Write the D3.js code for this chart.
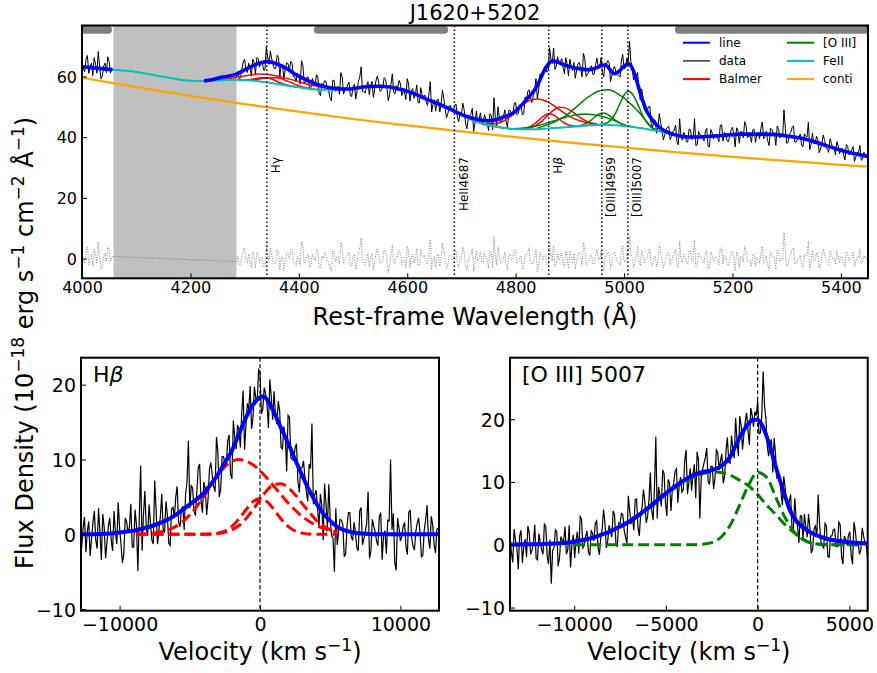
<!DOCTYPE html>
<html><head><meta charset="utf-8">
<script src="https://cdn.jsdelivr.net/npm/d3@7"></script>
<style>body{margin:0;background:#fff;} svg{font-family:"DejaVu Sans",sans-serif;}</style>
</head><body><svg id="c" width="877" height="673"></svg>
<script>
// ---------------- DATA ----------------
const title = "J1620+5202";
// top panel: observed spectrum (two segments, 2.5 Å sampling: grid + half-step points)
const wave1 = d3.range(4000, 4056, 5);
const wave1Mid = d3.range(4002.5, 4053, 5);
const wave2 = d3.range(4285, 5451, 5);
const wave2Mid = d3.range(4287.5, 5448, 5);
const flux1 = [65.3,61.6,66.9,63.4,60.3,64.0,68.2,59.2,63.4,61.3,65.0,62.9];
const flux1Mid = [62.4,65.7,61.0,64.4,66.2,61.1,63.2,60.0,64.4,66.5,61.1];
const flux2 = [59.8,59.1,62.5,65.7,61.3,62.8,65.7,60.8,65.9,64.9,
62.1,69.7,64.0,65.8,62.6,67.0,60.0,63.9,62.4,64.3,
65.0,59.9,58.2,60.4,65.2,57.6,59.7,55.5,59.4,56.9,
59.8,53.7,56.9,58.4,55.3,52.0,58.8,56.5,54.1,59.8,
55.5,57.2,53.7,56.7,52.6,58.4,63.2,55.2,56.8,54.0,
58.4,56.0,60.2,55.1,56.6,59.0,52.0,57.4,54.7,56.9,
58.7,53.7,54.9,59.3,51.9,56.0,54.0,51.4,56.3,53.4,
51.6,54.2,48.3,52.3,52.4,48.3,55.5,49.3,47.8,50.3,
48.4,50.9,45.1,47.5,49.1,42.8,47.1,49.5,44.6,44.9,
48.0,43.9,46.0,42.2,47.2,53.0,43.7,46.4,45.6,49.0,
43.2,48.8,47.7,51.4,47.9,50.4,47.8,52.1,55.6,51.4,
55.2,52.6,60.9,59.9,63.6,62.0,65.9,69.4,63.4,64.1,
65.9,60.9,64.1,65.7,61.9,59.4,64.2,62.6,67.6,60.0,
61.5,63.5,60.8,66.0,62.9,61.4,64.5,65.2,58.3,62.5,
61.3,60.3,65.1,62.5,66.0,71.6,63.1,59.5,61.3,52.2,
52.8,48.7,50.0,44.4,45.5,41.3,47.8,42.4,40.7,43.3,
39.2,41.9,44.0,37.5,40.3,41.6,38.5,42.7,39.2,46.1,
37.5,40.8,39.7,42.0,37.0,42.5,39.4,41.0,38.5,44.1,
41.6,38.8,40.5,43.3,36.8,42.3,41.8,39.8,43.9,40.3,
38.3,42.6,41.2,39.5,45.0,40.1,38.8,42.9,41.4,37.3,
42.9,40.6,49.0,38.0,41.0,43.2,38.4,39.4,41.0,36.8,
40.3,44.9,37.6,38.0,40.3,34.9,38.1,38.9,36.0,39.5,
36.3,34.2,37.1,36.3,34.1,37.6,34.2,35.8,32.0,34.9,
37.3,32.8,34.1,32.0];
const flux2Mid = [61.7,59.6,64.8,62.1,64.4,60.1,64.6,66.2,63.1,64.8,
62.1,66.3,68.4,63.8,62.7,66.3,64.0,59.1,64.5,61.9,
64.4,59.8,61.0,57.5,63.6,58.4,59.8,56.4,58.1,60.6,
54.3,57.7,58.6,56.0,53.0,58.7,55.1,56.7,61.3,54.2,
56.0,58.1,53.4,57.4,55.3,59.9,55.1,54.5,58.3,57.2,
53.1,58.8,57.7,55.6,59.6,56.4,54.0,60.9,54.3,56.6,
57.5,54.9,52.4,57.5,54.9,52.8,57.2,51.3,54.0,53.9,
50.5,58.3,50.8,48.6,52.4,50.9,52.8,46.4,50.4,48.6,
50.6,46.5,48.2,51.2,44.7,45.9,47.7,41.8,48.6,45.7,
44.4,47.4,44.8,47.8,42.4,46.6,50.0,44.8,46.8,45.0,
48.9,47.2,51.2,47.4,50.7,47.3,53.3,55.1,53.0,53.7,
59.3,55.6,60.4,62.9,61.4,69.5,64.3,62.3,66.5,64.9,
63.0,66.2,60.2,63.4,64.6,62.1,64.6,59.9,66.0,60.8,
63.1,60.6,63.9,63.0,66.2,59.9,64.0,64.5,60.4,63.3,
60.6,59.8,67.3,62.8,64.7,65.0,58.8,59.9,55.6,55.9,
48.9,48.7,50.2,43.0,45.6,43.2,44.8,39.1,42.6,43.6,
40.3,42.2,38.7,46.1,39.0,40.6,38.4,42.5,39.7,37.2,
41.9,40.7,38.8,42.9,36.8,41.4,40.6,39.7,43.9,38.7,
41.2,38.5,42.4,40.8,43.1,38.0,41.8,45.1,39.8,40.4,
42.4,38.3,41.3,43.0,39.5,41.9,37.2,42.6,41.3,43.7,
39.7,40.2,42.8,38.3,41.5,43.7,38.4,40.0,37.4,41.1,
40.1,35.9,41.4,37.8,39.2,36.1,40.7,36.8,35.0,38.0,
36.4,38.5,34.5,36.3,32.5,37.0,34.6,36.9,33.5,34.9,
32.4,35.0,34.2];
// residuals (data - model)
const resid1 = [2.1,-1.5,3.8,0.4,-2.6,1.2,5.5,-3.4,0.9,-1.1,2.7,0.7];
const resid1Mid = [-0.8,2.6,-2.0,1.4,3.3,-1.7,0.5,-2.6,1.9,4.1,-1.2];
const resid2 = [-1.0,-2.1,0.8,3.5,-1.4,-0.3,2.2,-3.1,1.7,0.4,
-2.6,4.8,-0.9,1.1,-1.8,2.9,-3.8,0.6,-0.5,1.9,
3.2,-1.2,-2.4,0.3,5.6,-1.6,0.9,-2.9,1.4,-0.7,
2.5,-3.3,0.1,1.8,-1.1,-4.2,2.7,0.5,-1.9,3.9,
-0.4,1.3,-2.2,0.7,-3.5,2.1,6.8,-1.3,0.2,-2.7,
1.6,-0.8,3.4,-1.7,-0.2,2.3,-4.6,1.0,-1.5,0.9,
2.8,-2.0,-0.6,4.1,-3.0,1.5,-0.1,-2.3,3.0,0.4,
-1.0,2.0,-3.6,0.8,1.2,-2.5,5.1,-0.7,-1.8,1.1,
-0.3,2.6,-2.8,0.0,1.9,-4.0,0.6,3.3,-1.4,-0.9,
2.4,-1.6,0.5,-3.2,1.7,7.4,-2.1,0.3,-0.8,2.2,
-3.9,1.4,-0.2,2.9,-1.2,0.7,-2.6,1.0,3.6,-1.9,
0.2,-4.4,2.1,-0.6,1.3,-2.0,0.9,4.3,-1.5,-0.4,
1.8,-2.9,0.6,2.5,-1.1,-3.4,1.6,0.1,5.3,-2.2,
-0.7,1.2,-1.7,3.1,-0.5,-2.4,0.8,2.0,-3.7,1.5,
0.4,-1.3,2.7,-0.9,1.9,7.5,0.3,-1.0,3.8,-2.3,
1.1,-0.6,2.3,-1.8,0.5,-2.8,4.5,-0.2,-1.4,1.7,
-2.1,0.9,3.2,-3.0,0.0,1.4,-1.6,2.6,-0.8,6.1,
-2.5,0.7,-0.4,1.8,-3.3,2.2,-1.0,0.6,-2.0,3.5,
1.0,-1.9,-0.3,2.4,-4.1,1.3,0.8,-1.2,2.9,-0.7,
-2.7,1.6,0.2,-1.5,4.0,-0.9,-2.2,1.9,0.5,-3.6,
2.1,-0.1,8.5,-2.4,0.7,3.0,-1.7,-0.5,1.2,-2.9,
0.9,5.8,-1.3,-0.6,2.0,-3.1,0.4,1.5,-1.1,2.7,
-0.2,-2.0,1.1,0.6,-1.4,2.3,-0.8,1.0,-2.6,0.5,
3.1,-1.2,0.2,-1.7];
const resid2Mid = [0.7,-1.9,2.8,-0.4,1.5,-3.2,0.9,2.1,-1.3,0.2,
-2.7,1.4,3.6,-0.8,-1.6,2.3,0.4,-4.0,1.8,-0.2,
2.9,-1.1,0.6,-2.4,4.2,-0.6,1.2,-1.8,0.3,3.1,
-2.9,0.8,1.9,-0.5,-3.3,2.5,-1.0,0.7,5.4,-1.7,
0.1,2.2,-2.6,1.3,-0.9,3.5,-1.4,-2.1,1.6,0.5,
-3.7,2.0,0.9,-1.2,2.8,-0.3,-2.5,4.6,-1.8,0.6,
1.7,-0.7,-3.0,2.4,0.2,-1.5,3.3,-2.2,0.8,1.1,
-1.9,6.2,-0.9,-2.8,1.4,0.3,2.6,-3.4,1.0,-0.4,
2.1,-1.6,0.5,3.8,-2.3,-0.8,1.3,-4.3,2.7,0.0,
-1.2,1.9,-0.6,2.4,-3.1,0.9,4.0,-1.5,0.2,-2.0,
1.6,-0.5,2.9,-1.7,0.7,-3.6,1.4,2.2,-0.9,-1.3,
3.0,-2.4,0.4,1.1,-1.9,5.0,-0.8,-2.7,1.8,0.6,
-1.0,2.5,-3.2,0.3,1.7,-0.6,2.0,-2.5,3.7,-1.4,
0.8,-1.8,1.2,-0.2,2.6,-3.9,0.5,1.9,-1.1,2.3,
-0.7,-2.2,4.4,-1.0,0.6,1.5,-2.9,0.9,-0.4,2.8,
-1.6,0.2,3.2,-2.6,1.0,-0.5,1.8,-3.3,0.7,2.1,
-0.9,1.3,-2.0,5.7,-1.3,0.4,-1.7,2.5,-0.3,-2.8,
1.9,0.6,-1.4,2.7,-3.5,1.1,0.2,-0.8,3.4,-1.9,
0.5,-2.3,1.6,-0.1,2.2,-3.0,0.8,4.1,-1.2,-0.6,
1.4,-2.7,0.3,2.0,-1.5,0.9,-3.8,1.7,0.4,2.9,
-1.1,-0.4,2.3,-2.1,1.2,3.6,-1.6,0.1,-2.4,1.5,
0.8,-3.1,2.6,-0.7,1.0,-1.8,3.1,-0.5,-2.0,1.3,
0.0,2.4,-1.4,0.7,-2.9,1.8,-0.3,2.2,-1.0,0.6,
-1.7,1.1,0.4];
// total model ("line")
const lineModel1 = [[4000,63.2],[4020,62.9],[4040,62.5],[4056,62.2]];
const lineModel2 = [[4225,58.55],[4240,58.9],[4250,59.4],[4260,59.8],[4270,60.1],[4285,60.8],[4300,62.2],[4310,63.1],[4320,63.9],[4330,64.5],[4340,64.9],[4350,64.7],[4360,64.1],[4370,63.3],[4380,62.4],[4390,61.1],[4400,60.1],[4410,59.2],[4420,58.4],[4430,57.6],[4440,57.0],[4450,56.6],[4460,56.2],[4470,56.0],[4480,55.9],[4495,55.9],[4510,56.3],[4530,56.7],[4550,56.8],[4565,56.6],[4580,56.0],[4595,55.5],[4610,54.5],[4630,53.0],[4650,51.5],[4670,50.0],[4690,48.3],[4710,46.8],[4730,45.8],[4750,45.4],[4765,45.8],[4780,46.8],[4790,47.4],[4800,48.6],[4810,50.4],[4820,52.4],[4830,54.4],[4840,57.0],[4850,61.0],[4860,64.0],[4866,65.05],[4875,64.9],[4890,63.8],[4905,63.0],[4920,62.5],[4935,62.2],[4950,62.9],[4960,63.8],[4968,63.5],[4975,62.0],[4982,60.9],[4990,61.6],[5000,63.4],[5008,64.2],[5015,62.8],[5020,60.5],[5025,57.5],[5030,54.5],[5035,51.7],[5040,49.3],[5050,46.2],[5060,44.1],[5070,42.6],[5085,41.3],[5100,40.5],[5120,40.05],[5140,40.05],[5160,40.3],[5180,40.55],[5200,40.85],[5220,41.0],[5260,41.0],[5280,40.85],[5300,40.4],[5320,39.9],[5340,39.1],[5360,38.0],[5380,36.8],[5400,35.7],[5420,34.8],[5440,34.0],[5450,33.7]];
// FeII + continuum
const feModel = [[4000,63.1],[4030,62.7],[4058,62.25],[4080,61.9],[4100,61.5],[4120,60.9],[4140,60.2],[4160,59.6],[4180,59.0],[4200,58.6],[4230,58.5],[4260,58.75],[4285,58.9],[4310,58.7],[4325,58.45],[4340,58.1],[4355,57.7],[4370,57.3],[4390,56.7],[4410,56.15],[4430,55.75],[4450,55.6],[4470,55.7],[4480,55.85],[4495,55.9],[4510,56.3],[4530,56.7],[4550,56.8],[4565,56.6],[4580,56.0],[4595,55.5],[4610,54.5],[4630,53.0],[4650,51.5],[4670,50.0],[4690,48.3],[4705,47.1],[4720,45.6],[4730,45.0],[4740,44.4],[4750,44.0],[4760,43.6],[4770,43.3],[4780,43.0],[4790,42.8],[4800,42.65],[4820,42.6],[4840,42.65],[4860,42.9],[4880,43.1],[4900,43.35],[4920,43.7],[4940,43.95],[4960,44.1],[4980,43.95],[5000,43.7],[5020,43.3],[5040,42.7],[5060,42.1],[5080,41.4],[5100,40.6],[5110,40.2],[5120,40.05],[5140,40.05],[5160,40.3],[5180,40.55],[5200,40.85],[5220,41.0],[5260,41.0],[5280,40.85],[5300,40.4],[5320,39.9],[5340,39.1],[5360,38.0],[5380,36.8],[5400,35.7],[5420,34.8],[5440,34.0],[5450,33.7]];
// power-law continuum
const contiWave = [4000,4100,4200,4300,4400,4500,4600,4700,4800,4900,5000,5100,5200,5300,5400,5450];
const contiFlux = [59.6,56.5,53.6,50.9,48.4,46.0,43.9,41.9,40.0,38.2,36.6,35.0,33.5,32.2,30.9,30.3];
// Balmer components (top)
const hgA = [[4250,58.75],[4270,59.2],[4290,59.9],[4310,60.5],[4325,60.8],[4340,60.7],[4355,60.3],[4370,59.7],[4390,58.8],[4410,57.8],[4430,56.9],[4450,56.2],[4470,55.75],[4490,55.85]];
const hgB = [[4290,58.92],[4300,58.88],[4310,59.0],[4320,59.28],[4330,59.59],[4340,59.6],[4350,59.15],[4360,58.35],[4370,57.63],[4380,57.1],[4390,56.72],[4400,56.4]];
const hgC = [[4290,58.9],[4300,58.85],[4320,58.97],[4340,59.48],[4359,59.58],[4380,58.4],[4400,56.92],[4420,56.05],[4440,55.6]];
const hbWave = d3.range(4720, 4951, 10);
const hbA = [45.63,45.08,44.59,44.41,44.41,44.74,45.56,46.77,48.35,50.04,51.55,52.44,52.61,52.26,51.54,50.44,49.17,47.9,46.8,45.95,45.31,44.86,44.55,44.39];
const hbB = [45.6,45.0,44.4,44.0,43.6,43.3,43.0,42.8,42.67,42.71,43.02,43.77,45.15,46.73,47.69,47.3,46.01,44.67,43.9,43.71,43.73,43.85,43.95,44.05];
const hbC = [45.6,45.0,44.4,44.0,43.6,43.3,43.0,42.8,42.67,42.68,42.85,43.27,44.15,45.55,47.35,48.97,49.87,49.74,48.89,47.67,46.37,45.37,44.71,44.39];
// [O III] components (top)
const o3b5007Wave = d3.range(4840, 5101, 10);
const o3b5007 = [43.05,43.55,44.2,44.9,45.8,46.8,48.15,49.65,51.2,52.75,53.95,54.95,55.5,55.6,55.15,54.1,52.9,51.3,49.6,47.7,45.5,43.4,42.3,41.8,41.4,41.0,40.6];
const o3b4959Wave = d3.range(4800, 5021, 10);
const o3b4959 = [42.85,42.97,43.17,43.4,43.75,44.22,44.8,45.33,45.93,46.43,46.88,47.32,47.57,47.6,47.45,47.22,46.83,46.28,45.62,44.87,44.13,43.58,43.3];
const o3c5007 = [[4940,43.95],[4950,44.05],[4960,44.27],[4970,44.85],[4980,46.65],[4985,48.18],[4990,50.1],[4995,52.1],[5000,53.9],[5005,54.95],[5008.5,55.12],[5012,54.85],[5017,53.8],[5022,52.15],[5027,50.15],[5032,48.05],[5037,46.3],[5042,44.85],[5050,43.3],[5060,42.33],[5070,41.8]];
const o3c4959 = [[4910,43.55],[4920,43.89],[4930,44.55],[4940,45.73],[4945,46.48],[4950,47.2],[4955,47.74],[4960.5,47.97],[4966,47.78],[4972,47.2],[4978,46.41],[4985,45.43],[4995,44.38],[5005,43.79],[5015,43.4]];
// line markers
const lineMarks = [4341, 4687, 4861, 4959, 5007];
const lineNames = ["H\u03b3", "HeII4687", "H\u03b2", "[OIII]4959", "[OIII]5007"];
// continuum windows & masked region
const windows = [[3990,4048],[4435,4668],[5101,5470]];
const maskRange = [4058, 4285];
const topXTicks = [4000,4200,4400,4600,4800,5000,5200,5400];
const topYTicks = [0,20,40,60];

// bottom-left: H beta (100 km/s sampling: grid + half-step points)
const hbVel = d3.range(-12700, 12701, 200);
const hbVelMid = d3.range(-12600, 12601, 200);
const hbFlux = [-1.8,2.3,0.4,-2.9,1.6,-0.7,3.5,-3.4,1.0,-1.1,
2.2,-2.2,0.4,4.3,-1.3,-2.7,1.7,1.0,-1.7,3.3,
-4.9,9.2,2.7,0.9,4.0,-0.8,7.2,-1.3,2.3,0.7,
4.4,-1.2,3.4,2.2,6.4,1.0,3.8,5.4,12.5,6.5,
3.1,5.6,9.4,2.9,6.1,4.7,9.6,6.4,13.0,5.0,
10.4,9.4,12.5,8.1,15.2,11.4,14.1,16.3,11.3,17.5,
19.8,15.6,18.2,22.0,16.1,19.6,17.4,20.7,15.3,16.0,
17.8,11.6,14.4,8.4,15.6,10.0,11.6,7.1,8.9,9.8,
5.7,9.4,14.8,5.3,3.5,5.4,-0.8,4.1,6.7,-0.2,
-5.0,-1.4,2.0,1.3,-2.6,2.9,-0.3,1.6,-1.8,3.1,
-1.4,0.3,5.7,-2.2,1.1,-0.9,2.4,-3.4,0.5,1.9,
10.0,2.8,-4.8,0.9,-0.3,1.6,-2.7,3.2,-1.6,0.4,
2.2,-3.0,0.6,3.9,-1.9,1.3,-2.5,0.8];
const hbFluxMid = [0.9,-2.4,1.7,-0.6,3.1,-1.9,0.3,2.7,-3.2,1.1,
-0.7,3.1,-1.3,0.8,-3.8,2.2,0.2,4.1,-1.7,1.3,
2.2,-2.2,5.8,-0.2,1.4,-1.3,3.3,0.6,5.4,0.2,
2.6,-1.5,3.6,5.0,1.6,3.3,0.6,7.0,3.5,6.2,
2.5,8.9,4.5,7.0,2.6,8.7,7.8,5.7,11.0,6.0,
10.4,9.5,13.3,7.4,13.0,14.6,11.6,19.2,14.6,16.7,
14.1,19.7,17.7,21.7,16.7,18.8,14.2,18.4,19.1,14.7,
16.5,11.4,13.2,15.9,10.2,9.9,12.1,5.6,8.9,7.6,
4.4,8.8,4.0,5.9,0.9,3.9,6.8,0.8,2.1,-0.5,
3.5,0.4,1.9,-3.0,1.1,2.9,-0.8,0.2,-2.2,3.6,
-0.6,1.5,-3.2,2.0,0.4,-1.5,2.9,-0.2,-2.6,1.8,
0.6,-3.8,2.2,-0.9,1.1,-1.7,3.0,-0.4,-2.1,1.5,
0.2,-2.8,1.9,-0.6,2.4,-1.3,0.7];
const hbLineV = [-12750,-12000,-11000,-10000,-9500,-9000,-8500,-8000,-7500,-7000,-6500,-6000,-5500,-5000,-4500,-4000,-3500,-3000,-2500,-2000,-1500,-1000,-500,0,250,500,1000,1500,2000,2500,3000,3500,4000,4500,5000,5500,6000,6500,7000,7500,8000,9000,10000,12750];
const hbLineF = [0,0.02,0.08,0.25,0.38,0.5,0.72,0.95,1.25,1.6,2.05,2.6,3.3,4.0,4.7,5.5,6.7,8.0,9.6,11.2,13.4,15.6,17.3,18.3,18.4,18.0,16.3,14.2,12.2,10.0,7.9,5.9,4.2,2.8,1.8,1.0,0.55,0.3,0.15,0.07,0.03,0.01,0,0];
const hbCompV = [-8800].concat(d3.range(-8000, 5501, 500));
const hbCompA = [0.03,0.09,0.18,0.34,0.62,1.06,1.71,2.6,3.75,5.05,6.5,7.88,9.04,9.78,10.0,9.8,9.3,8.5,7.5,6.4,5.3,4.2,3.25,2.4,1.74,1.2,0.8,0.52,0.33];
const hbCompB = [0,0,0,0,0,0,0,0,0,0,0.05,0.16,0.45,1.06,2.06,3.29,4.37,4.8,4.37,3.29,2.06,1.06,0.45,0.16,0.05,0.01,0,0,0];
const hbCompC = [0,0,0,0,0,0,0,0,0,0.01,0.04,0.11,0.28,0.6,1.18,2.1,3.3,4.67,5.9,6.66,6.76,6.25,5.3,4.1,3.0,1.9,1.16,0.63,0.32];

// bottom-right: [O III] 5007 (75 km/s sampling: grid + half-step points)
const o3Vel = d3.range(-13500, 6001, 150);
const o3VelMid = d3.range(-13425, 5926, 150);
const o3Flux = [1.6,-2.8,0.7,-3.9,2.3,-0.3,-2.0,1.9,-0.9,3.2,
-2.4,0.4,-1.5,2.9,-3.1,-6.2,-0.5,2.1,-2.1,0.7,
2.9,-0.8,-3.6,1.6,0.8,-1.4,4.1,-0.1,2.2,-1.7,
1.8,3.4,-0.4,1.3,5.6,-0.5,3.1,1.2,4.8,-0.3,
3.4,4.8,1.2,7.8,3.3,2.3,7.3,1.4,5.9,6.9,
4.5,11.5,3.9,17.2,9.2,6.1,11.3,4.6,9.8,8.8,
11.7,6.7,10.8,8.8,15.1,9.9,8.6,12.8,14.8,4.2,
12.0,13.9,10.1,12.5,8.9,15.1,11.9,14.5,10.9,17.1,
13.0,15.2,20.2,14.1,19.0,17.5,21.0,15.9,20.6,21.2,
22.9,17.8,27.6,20.1,14.1,16.8,17.0,10.7,10.9,6.3,
9.0,5.8,8.0,2.6,4.1,0.3,4.6,4.9,1.2,2.8,
-0.7,3.0,8.0,0.5,-0.5,3.0,-2.0,1.4,2.5,-0.3,
3.2,-3.1,0.8,1.5,-1.7,3.6,-0.2,-1.5,2.7,0.3,
-2.5];
const o3FluxMid = [-1.2,2.5,-0.5,1.4,-2.9,0.9,3.0,-1.5,0.3,-2.2,
1.8,-0.8,3.4,-1.8,0.8,-0.9,2.4,-3.4,1.3,0.6,
-1.5,3.1,0.1,-2.1,2.1,4.5,-0.5,1.4,-1.2,2.3,
0.6,3.8,-1.6,2.5,3.6,0.5,2.3,5.4,0.2,3.5,
5.0,2.3,0.2,5.4,4.5,7.2,2.8,5.0,8.8,3.5,
7.1,5.6,9.0,4.2,7.9,11.9,6.9,10.4,5.4,9.9,
12.1,9.5,8.4,13.4,8.1,12.2,11.3,7.4,13.5,10.7,
13.0,15.4,9.6,12.5,10.7,14.7,13.4,9.8,14.9,13.2,
17.4,13.8,16.6,20.5,15.2,19.7,18.2,21.8,18.8,20.6,
17.7,20.6,22.1,15.7,16.0,11.5,14.4,11.1,8.3,10.9,
6.3,6.9,2.6,7.4,3.1,4.6,0.9,3.0,4.9,-1.3,
2.5,1.3,3.3,-0.2,3.4,-1.9,1.4,2.4,-0.3,3.6,
-1.8,1.4,-0.1,2.1,-3.1,2.3,0.6,-0.9,1.4,-0.1];
const o3LineV = [-13500,-13000,-12500,-12000,-11500,-11000,-10500,-10000,-9500,-9000,-8500,-8000,-7500,-7000,-6500,-6000,-5500,-5000,-4500,-4000,-3500,-3000,-2500,-2000,-1500,-1000,-500,-250,0,250,500,750,1000,1250,1500,1750,2000,2500,3000,3500,4000,4500,5000,5500,6000];
const o3LineF = [0.05,0.05,0.1,0.1,0.15,0.2,0.3,0.5,0.8,1.1,1.6,2.2,2.9,3.7,4.7,5.8,7.0,8.2,9.3,10.3,11.1,11.6,11.9,12.5,14.0,17.0,19.3,19.9,19.9,19.0,17.2,14.9,12.3,10.0,7.7,5.6,4.2,2.7,1.8,1.2,0.8,0.6,0.4,0.3,0.2];
const o3CompV = d3.range(-10000, 5501, 500);
const o3CompBroad = [0.4,0.7,1.1,1.6,2.1,2.8,3.6,4.6,5.7,6.8,8.0,9.1,10.0,10.8,11.3,11.6,11.5,11.1,10.3,9.4,8.0,6.3,4.8,3.2,1.9,0.8,0.2,0.05,0,0,0,0];
const o3CompCore = [0,0,0,0,0,0,0,0,0,0,0,0,0,0.02,0.1,0.35,1.2,3.1,6.2,9.5,11.5,10.7,7.5,4.3,2.0,0.8,0.25,0.06,0.01,0,0,0];

const legendNames = ["line","data","Balmer","[O III]","FeII","conti"];
const legendColors = ["#0000ff","#000000","#ff0000","#008000","#00bfbf","#ffa500"];

// ---------------- DRAWING ----------------
const svg = d3.select("#c");
const fmt = d3.format("d");
const merge = (xa, ya, xb, yb) => xa.map((w, i) => [w, ya[i]]).concat(xb.map((w, i) => [w, yb[i]])).sort((a, b) => a[0] - b[0]);

function panelAxes(g, x, y, xt, yt, fs, xLabY) {
  const bottom = y.range()[0];
  const left = x.range()[0];
  const ax = g.append("g").attr("transform", `translate(0,${bottom})`)
    .call(d3.axisBottom(x).tickValues(xt).tickFormat(fmt).tickSizeInner(-5).tickSizeOuter(0));
  ax.select(".domain").remove();
  ax.selectAll("text").attr("y", xLabY).attr("dy", null).style("font-size", fs + "px").attr("fill", "#000");
  ax.selectAll("line").attr("stroke", "#000");
  const ay = g.append("g").attr("transform", `translate(${left},0)`)
    .call(d3.axisLeft(y).tickValues(yt).tickFormat(fmt).tickSizeInner(-5).tickSizeOuter(0).tickPadding(5));
  ay.select(".domain").remove();
  ay.selectAll("text").attr("dy", "0.36em").style("font-size", fs + "px").attr("fill", "#000");
  ay.selectAll("line").attr("stroke", "#000");
  ax.attr("font-family", null); ay.attr("font-family", null);
}
function frame(g, x, y) {
  g.append("rect").attr("x", x.range()[0]).attr("y", y.range()[1])
   .attr("width", x.range()[1] - x.range()[0]).attr("height", y.range()[0] - y.range()[1])
   .attr("fill", "none").attr("stroke", "#000").attr("stroke-width", 2);
}
function clip(id, x, y) {
  svg.append("clipPath").attr("id", id).append("rect")
    .attr("x", x.range()[0]).attr("y", y.range()[1])
    .attr("width", x.range()[1] - x.range()[0]).attr("height", y.range()[0] - y.range()[1]);
}

// ===== TOP PANEL =====
const xT = d3.scaleLinear().domain([4000, 5450]).range([82, 868]);
const yT = d3.scaleLinear().domain([-6.5, 76.8]).range([278.3, 25.5]);
clip("clipT", xT, yT);
const gT = svg.append("g");
const pT = gT.append("g").attr("clip-path", "url(#clipT)");

pT.append("rect").attr("x", xT(maskRange[0])).attr("y", yT.range()[1])
  .attr("width", xT(maskRange[1]) - xT(maskRange[0])).attr("height", yT.range()[0] - yT.range()[1])
  .attr("fill", "#c0c0c0");
windows.forEach(w => {
  pT.append("line").attr("x1", xT(w[0])).attr("x2", xT(w[1])).attr("y1", yT(75.4)).attr("y2", yT(75.4))
    .attr("stroke", "#808080").attr("stroke-width", 8).attr("stroke-linecap", "round");
});

const lineXY = (x, y, curve) => d3.line().x(d => x(d[0])).y(d => y(d[1])).curve(curve || d3.curveLinear);
const lT = lineXY(xT, yT);
const sT = lineXY(xT, yT, d3.curveMonotoneX);

// data
pT.append("path").datum(merge(wave1, flux1, wave1Mid, flux1Mid)).attr("d", lT)
  .attr("fill", "none").attr("stroke", "#000").attr("stroke-width", 1);
pT.append("path").datum(merge(wave2, flux2, wave2Mid, flux2Mid)).attr("d", lT)
  .attr("fill", "none").attr("stroke", "#000").attr("stroke-width", 1);
// residual
const residPts = merge(wave1, resid1, wave1Mid, resid1Mid).concat(merge(wave2, resid2, wave2Mid, resid2Mid));
pT.append("path").datum(residPts).attr("d", lT).attr("fill", "none")
  .attr("stroke", "#808080").attr("stroke-width", 1).attr("stroke-dasharray", "1,1.5");

// continuum
pT.append("path").datum(contiWave.map((w, i) => [w, contiFlux[i]])).attr("d", sT)
  .attr("fill", "none").attr("stroke", "#ffa500").attr("stroke-width", 2.2);
// Balmer
[hgA, hgB, hgC].forEach(c => pT.append("path").datum(c).attr("d", sT)
  .attr("fill", "none").attr("stroke", "#ff0000").attr("stroke-width", 1.5));
[hbA, hbB, hbC].forEach(c => pT.append("path").datum(hbWave.map((w, i) => [w, c[i]])).attr("d", sT)
  .attr("fill", "none").attr("stroke", "#ff0000").attr("stroke-width", 1.5));
// [O III]
pT.append("path").datum(o3b5007Wave.map((w, i) => [w, o3b5007[i]])).attr("d", sT)
  .attr("fill", "none").attr("stroke", "#008000").attr("stroke-width", 1.5);
pT.append("path").datum(o3b4959Wave.map((w, i) => [w, o3b4959[i]])).attr("d", sT)
  .attr("fill", "none").attr("stroke", "#008000").attr("stroke-width", 1.5);
[o3c5007, o3c4959].forEach(c => pT.append("path").datum(c).attr("d", sT)
  .attr("fill", "none").attr("stroke", "#008000").attr("stroke-width", 1.5));
// FeII
pT.append("path").datum(feModel).attr("d", sT)
  .attr("fill", "none").attr("stroke", "#00bfbf").attr("stroke-width", 2);
// line markers
lineMarks.forEach((m, i) => {
  pT.append("line").attr("x1", xT(m)).attr("x2", xT(m)).attr("y1", yT.range()[1]).attr("y2", yT.range()[0])
    .attr("stroke", "#000").attr("stroke-width", 1.5).attr("stroke-dasharray", "1.5,2.5");
});
// total model
[lineModel1, lineModel2].forEach(c => pT.append("path").datum(c).attr("d", sT)
  .attr("fill", "none").attr("stroke", "#0000ff").attr("stroke-width", 3.6));

// line labels
lineMarks.forEach((m, i) => {
  const t = gT.append("text").attr("transform", `translate(${xT(m) + 9},157) rotate(-90)`)
    .attr("text-anchor", "end").attr("dy", "0.35em").style("font-size", "12px");
  if (lineNames[i] === "H\u03b2") {
    t.append("tspan").text("H");
    t.append("tspan").attr("font-style", "italic").text("\u03b2");
  } else t.text(lineNames[i]);
});

// legend
legendNames.forEach((n, i) => {
  const col = Math.floor(i / 3), row = i % 3;
  const lx = col === 0 ? 683 : 787, ly = 42.7 + row * 18.2;
  gT.append("line").attr("x1", lx).attr("x2", lx + 27).attr("y1", ly).attr("y2", ly)
    .attr("stroke", legendColors[i]).attr("stroke-width", n === "data" ? 1.2 : 2);
  gT.append("text").attr("x", lx + 36).attr("y", ly + 4.3).style("font-size", "12px").text(n);
});

panelAxes(gT, xT, yT, topXTicks, topYTicks, 16, 15);
frame(gT, xT, yT);
svg.append("text").attr("x", 475).attr("y", 19.5).attr("text-anchor", "middle").style("font-size", "21px").text(title);
svg.append("text").attr("x", 475).attr("y", 325).attr("text-anchor", "middle").style("font-size", "24px").text("Rest-frame Wavelength (\u00c5)");

// ===== BOTTOM PANELS =====
function bottomPanel(id, xDom, xRange, yDom, xt, comps, compColor, lineV, lineF, pts, label) {
  const x = d3.scaleLinear().domain(xDom).range(xRange);
  const y = d3.scaleLinear().domain(yDom).range([610.7, 357.7]);
  clip(id, x, y);
  const g = svg.append("g");
  const p = g.append("g").attr("clip-path", `url(#${id})`);
  const l = lineXY(x, y), s = lineXY(x, y, d3.curveMonotoneX);
  p.append("path").datum(pts).attr("d", l)
    .attr("fill", "none").attr("stroke", "#000").attr("stroke-width", 1.2);
  comps.forEach(c => p.append("path").datum(c.v.map((v, i) => [v, c.f[i]])).attr("d", s)
    .attr("fill", "none").attr("stroke", compColor).attr("stroke-width", 3).attr("stroke-dasharray", "11,5"));
  p.append("path").datum(lineV.map((v, i) => [v, lineF[i]])).attr("d", s)
    .attr("fill", "none").attr("stroke", "#0000ff").attr("stroke-width", 4);
  p.append("line").attr("x1", x(0)).attr("x2", x(0)).attr("y1", y.range()[1]).attr("y2", y.range()[0])
    .attr("stroke", "#000").attr("stroke-width", 1.2).attr("stroke-dasharray", "4,2.5");
  panelAxes(g, x, y, xt, [-10, 0, 10, 20], 19, 20);
  frame(g, x, y);
  const t = g.append("text").attr("x", x.range()[0] + 12).attr("y", 382).style("font-size", "22px");
  label(t);
  g.append("text").attr("x", (xRange[0] + xRange[1]) / 2).attr("y", 660).attr("text-anchor", "middle")
    .style("font-size", "24px").call(tt => {
      tt.append("tspan").text("Velocity (km s");
      tt.append("tspan").attr("dy", -9).style("font-size", "17px").text("\u22121");
      tt.append("tspan").attr("dy", 9).text(")");
    });
}
bottomPanel("clipL", [-12750, 12750], [81, 439], [-10.2, 23.6], [-10000, 0, 10000],
  [{v: hbCompV, f: hbCompA}, {v: hbCompV, f: hbCompB}, {v: hbCompV, f: hbCompC}], "#ff0000",
  hbLineV, hbLineF, merge(hbVel, hbFlux, hbVelMid, hbFluxMid),
  t => { t.append("tspan").text("H"); t.append("tspan").attr("font-style", "italic").text("\u03b2"); });
bottomPanel("clipR", [-13500, 6000], [510, 867.7], [-10.5, 29.8], [-10000, -5000, 0, 5000],
  [{v: o3CompV, f: o3CompBroad}, {v: o3CompV, f: o3CompCore}], "#008000",
  o3LineV, o3LineF, merge(o3Vel, o3Flux, o3VelMid, o3FluxMid),
  t => { t.text("[O III] 5007"); });

// shared y label
svg.append("text").attr("transform", "translate(33,343) rotate(-90)").attr("text-anchor", "middle")
  .style("font-size", "24px").call(t => {
    const sup = (s) => { t.append("tspan").attr("dy", -9).style("font-size", "17px").text(s); };
    const nor = (s) => { t.append("tspan").attr("dy", 9).text(s); };
    t.append("tspan").text("Flux Density (10");
    sup("\u221218"); nor(" erg s"); sup("\u22121"); nor(" cm"); sup("\u22122"); nor(" \u00c5"); sup("\u22121"); nor(")");
  });
</script>
</body></html>
